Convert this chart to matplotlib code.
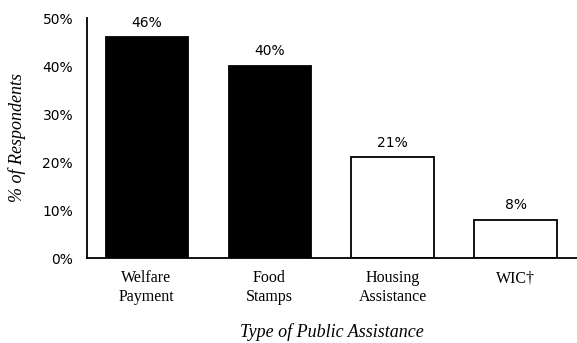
import matplotlib.pyplot as plt
import numpy as np

categories = ["Welfare\nPayment", "Food\nStamps", "Housing\nAssistance", "WIC\u2020"]
percents = [46, 40, 21, 8]
fills = ["black", "black", "white", "white"]
yticks = [0, 10, 20, 30, 40, 50]

fig = plt.figure(figsize=(5.77, 3.43), dpi=100)
ax = fig.add_axes([87 / 577, 1 - 258 / 343, 490 / 577, 240 / 343])

x = np.arange(len(categories))
ax.bar(x, percents, width=0.667, color=fills, edgecolor="black", linewidth=1.3)

for xi, p in zip(x, percents):
    ax.text(xi, p + 1.6, f"{p}%", ha="center", va="bottom",
            fontsize=10, family="DejaVu Sans")

ax.set_xlim(-0.484, 3.5)
ax.set_ylim(0, 50)
ax.set_yticks(yticks)
ax.set_yticklabels([f"{t}%" for t in yticks], fontsize=10, family="DejaVu Sans")
ax.set_xticks(x)
ax.set_xticklabels(categories, fontsize=11.5, family="Liberation Serif", linespacing=1.2)
ax.tick_params(length=0, pad=10)
ax.tick_params(axis="x", pad=9)

for side in ["top", "right"]:
    ax.spines[side].set_visible(False)
for side in ["left", "bottom"]:
    ax.spines[side].set_linewidth(1.3)

ax.set_ylabel("% of Respondents", fontsize=13, family="Liberation Serif",
              style="italic")
ax.yaxis.set_label_coords(-0.124, 0.5)
ax.set_xlabel("Type of Public Assistance", fontsize=13, family="Liberation Serif",
              style="italic", va="center")
ax.xaxis.set_label_coords(0.5, -0.308)

fig.savefig("out.png", dpi=100)
